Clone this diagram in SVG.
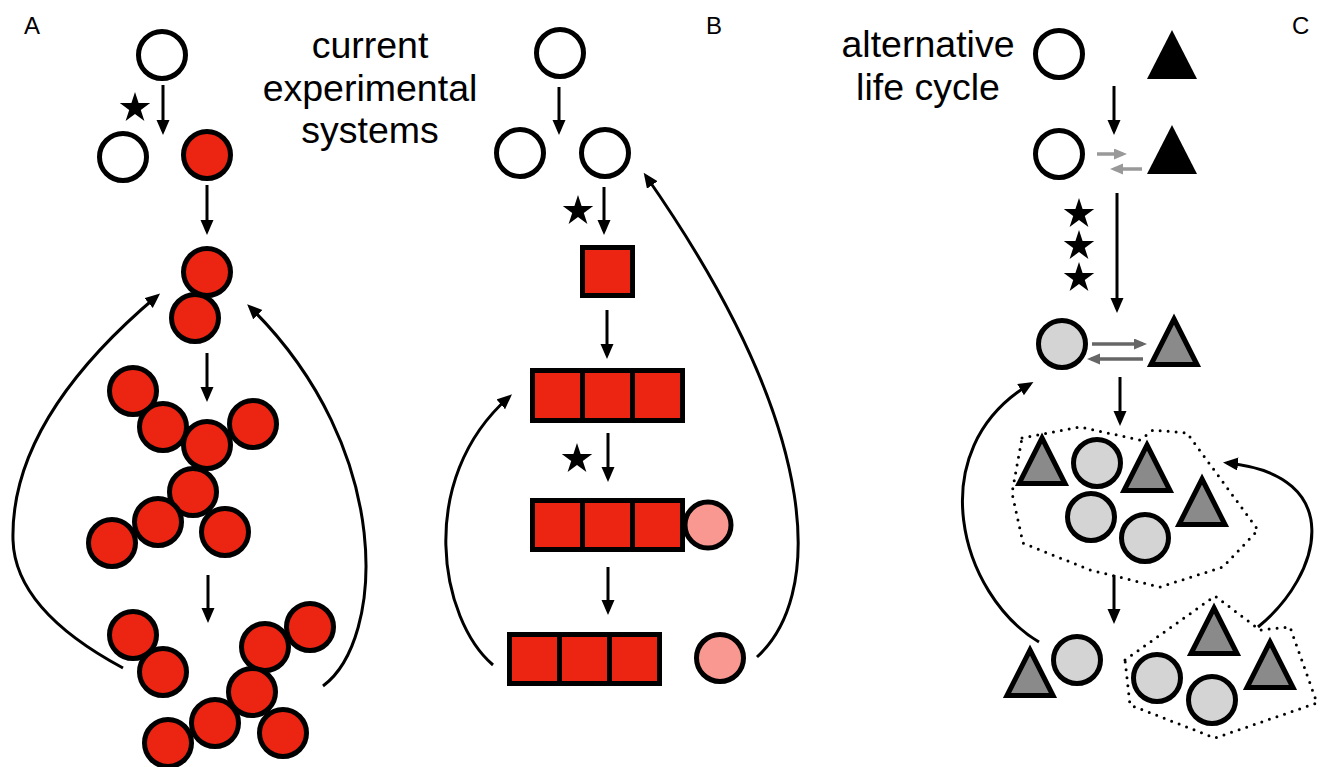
<svg xmlns="http://www.w3.org/2000/svg" xmlns:xlink="http://www.w3.org/1999/xlink" width="1320" height="767" viewBox="0 0 1320 767">
<style>
  .c { stroke: #000; stroke-width: 5; }
  .w { fill: #fff; }
  .r { fill: #ec2412; }
  .p { fill: #f99890; }
  .g { fill: #d4d4d4; }
  .tg { fill: #8a8a8a; stroke: #000; stroke-width: 5; stroke-linejoin: miter; }
  .tb { fill: #000; }
  .box { fill: #ec2412; stroke: #000; stroke-width: 5; }
  .div { stroke: #000; stroke-width: 5; }
  .arr { fill: none; stroke: #000; stroke-width: 3; marker-end: url(#ah); }
  .cur { fill: none; stroke: #000; stroke-width: 3; marker-end: url(#ah); }
  .ga { fill: none; stroke: #999; stroke-width: 3.5; marker-end: url(#ahg); }
  .da { fill: none; stroke: #666; stroke-width: 3.5; marker-end: url(#ahd); }
  .dot { fill: none; stroke: #000; stroke-width: 3; stroke-dasharray: 0 8; stroke-linecap: round; stroke-linejoin: round; }
  .lbl { font-family: "Liberation Sans", Arial, sans-serif; font-size: 24px; fill: #000; }
  .big { font-family: "Liberation Sans", Arial, sans-serif; font-size: 37.5px; fill: #000; text-anchor: middle; }
  .star { fill: #000; }
</style>
<defs>
  <marker id="ah" markerUnits="userSpaceOnUse" markerWidth="16" markerHeight="14" refX="11" refY="6.5" orient="auto">
    <path d="M0,0 L15,6.5 L0,13 z" fill="#000"/>
  </marker>
  <marker id="ahg" markerUnits="userSpaceOnUse" markerWidth="14" markerHeight="12" refX="9" refY="5.5" orient="auto">
    <path d="M0,0 L13,5.5 L0,11 z" fill="#999"/>
  </marker>
  <marker id="ahd" markerUnits="userSpaceOnUse" markerWidth="14" markerHeight="12" refX="9" refY="5.5" orient="auto">
    <path d="M0,0 L13,5.5 L0,11 z" fill="#666"/>
  </marker>
  <path id="star" d="M0,-15 L3.37,-4.64 L14.27,-4.64 L5.45,1.77 L8.82,12.14 L0,5.73 L-8.82,12.14 L-5.45,1.77 L-14.27,-4.64 L-3.37,-4.64 Z"/>
  <path id="starL" d="M0,-16 L3.6,-4.95 L15.22,-4.95 L5.81,1.89 L9.4,12.94 L0,6.11 L-9.4,12.94 L-5.81,1.89 L-15.22,-4.95 L-3.6,-4.95 Z"/>
  <polygon id="tri" points="0,5 23,50.5 -23,50.5"/>
</defs>

<!-- Panel labels and titles -->
<text class="lbl" x="24" y="34">A</text>
<text class="lbl" x="706" y="34">B</text>
<text class="lbl" x="1292" y="34">C</text>
<text class="big" x="370" y="58">current</text>
<text class="big" x="370" y="101">experimental</text>
<text class="big" x="370" y="143">systems</text>
<text class="big" x="928" y="57">alternative</text>
<text class="big" x="928" y="100">life cycle</text>

<!-- Connectors -->
<g id="connectors">
  <!-- A -->
  <path class="arr" d="M163,85 L163,131"/>
  <path class="arr" d="M207,185 L207,231"/>
  <path class="arr" d="M207,353 L207,398"/>
  <path class="arr" d="M208,575 L208,619"/>
  <path class="cur" d="M123,668 Q15,610 13,540 Q10,420 157,296"/>
  <path class="cur" d="M323,686 C385,640 395,450 250,307"/>
  <!-- B -->
  <path class="arr" d="M559,87 L559,131"/>
  <path class="arr" d="M604,187 L604,231"/>
  <path class="arr" d="M607,310 L607,355"/>
  <path class="arr" d="M608,433 L608,478"/>
  <path class="arr" d="M608,567 L608,611"/>
  <path class="cur" d="M493,665 C440,620 415,480 509,397"/>
  <path class="cur" d="M757,657 C820,600 830,440 646,176"/>
  <!-- C -->
  <path class="arr" d="M1114,86 L1114,131"/>
  <path class="ga" d="M1097,154 L1123,154"/>
  <path class="ga" d="M1142,169 L1114,169"/>
  <path class="arr" d="M1117,193 L1117,309"/>
  <path class="da" d="M1092,344 L1143,344"/>
  <path class="da" d="M1143,359 L1091,359"/>
  <path class="arr" d="M1120,377 L1120,422"/>
  <path class="arr" d="M1114,575 L1114,620"/>
  <path class="cur" d="M1039,642 C960,595 920,450 1030,384"/>
  <path class="cur" d="M1258,627 C1322,575 1348,475 1227,463"/>
</g>

<!-- Panel A nodes -->
<g id="A-start"><circle class="c w" cx="162" cy="55" r="23.5"/></g>
<g id="A-star"><use xlink:href="#starL" class="star" x="135" y="108"/></g>
<g id="A-split">
  <circle class="c w" cx="123" cy="157" r="23.5"/>
  <circle class="c r" cx="207" cy="155" r="23.5"/>
</g>
<g id="A-pair">
  <circle class="c r" cx="207" cy="272" r="23.5"/>
  <circle class="c r" cx="195" cy="318" r="23.5"/>
</g>
<g id="A-cluster">
  <circle class="c r" cx="133" cy="391" r="23.5"/>
  <circle class="c r" cx="163" cy="427" r="23.5"/>
  <circle class="c r" cx="253" cy="424" r="23.5"/>
  <circle class="c r" cx="207" cy="445" r="23.5"/>
  <circle class="c r" cx="193" cy="492" r="23.5"/>
  <circle class="c r" cx="112" cy="543" r="23.5"/>
  <circle class="c r" cx="158" cy="522" r="23.5"/>
  <circle class="c r" cx="225" cy="532" r="23.5"/>
</g>
<g id="A-fragment-small">
  <circle class="c r" cx="133" cy="635" r="23.5"/>
  <circle class="c r" cx="163" cy="672" r="23.5"/>
</g>
<g id="A-fragment-large">
  <circle class="c r" cx="310" cy="627" r="23.5"/>
  <circle class="c r" cx="265" cy="647" r="23.5"/>
  <circle class="c r" cx="252" cy="692" r="23.5"/>
  <circle class="c r" cx="168" cy="743" r="23.5"/>
  <circle class="c r" cx="215" cy="723" r="23.5"/>
  <circle class="c r" cx="283" cy="733" r="23.5"/>
</g>

<!-- Panel B nodes -->
<g id="B-start"><circle class="c w" cx="560" cy="53" r="23.5"/></g>
<g id="B-split">
  <circle class="c w" cx="520" cy="153" r="23.5"/>
  <circle class="c w" cx="605" cy="153" r="23.5"/>
</g>
<g id="B-star1"><use xlink:href="#starL" class="star" x="578" y="211"/></g>
<g id="B-square"><rect class="box" x="582.5" y="247.5" width="50" height="48"/></g>
<g id="B-row1">
  <rect class="box" x="532.5" y="370.5" width="150" height="50"/>
  <line class="div" x1="582.5" y1="370.5" x2="582.5" y2="420.5"/>
  <line class="div" x1="632.5" y1="370.5" x2="632.5" y2="420.5"/>
</g>
<g id="B-star2"><use xlink:href="#starL" class="star" x="577" y="459"/></g>
<g id="B-row2">
  <rect class="box" x="532.5" y="500.5" width="150" height="49"/>
  <line class="div" x1="582.5" y1="500.5" x2="582.5" y2="549.5"/>
  <line class="div" x1="632.5" y1="500.5" x2="632.5" y2="549.5"/>
  <circle class="c p" cx="708" cy="525" r="23"/>
</g>
<g id="B-row3">
  <rect class="box" x="509.5" y="634.5" width="150" height="49"/>
  <line class="div" x1="559.5" y1="634.5" x2="559.5" y2="683.5"/>
  <line class="div" x1="609.5" y1="634.5" x2="609.5" y2="683.5"/>
  <circle class="c p" cx="720" cy="658" r="23.5"/>
</g>

<!-- Panel C nodes -->
<g id="C-start">
  <circle class="c w" cx="1059" cy="54" r="23.5"/>
  <polygon class="tb" points="1147,79 1197,79 1172,30"/>
</g>
<g id="C-exchange">
  <circle class="c w" cx="1059" cy="154" r="23.5"/>
  <polygon class="tb" points="1147,174 1197,174 1172,125"/>
</g>
<g id="C-stars">
  <use xlink:href="#starL" class="star" x="1079" y="214"/>
  <use xlink:href="#starL" class="star" x="1079" y="246"/>
  <use xlink:href="#starL" class="star" x="1079" y="278"/>
</g>
<g id="C-pair">
  <circle class="c g" cx="1062" cy="344" r="23.5"/>
  <use xlink:href="#tri" class="tg" x="1174" y="314"/>
</g>
<g id="C-group">
  <polygon class="dot" points="1022,438 1080,427 1140,440 1153,430 1187,433 1258,530 1223,567 1160,587 1090,570 1023,543 1012,493"/>
  <use xlink:href="#tri" class="tg" x="1042" y="433"/>
  <circle class="c g" cx="1097" cy="463" r="23.5"/>
  <use xlink:href="#tri" class="tg" x="1147" y="440"/>
  <circle class="c g" cx="1091" cy="517" r="23.5"/>
  <circle class="c g" cx="1145" cy="538" r="23.5"/>
  <use xlink:href="#tri" class="tg" x="1202" y="474"/>
</g>
<g id="C-released">
  <use xlink:href="#tri" class="tg" x="1030" y="645"/>
  <circle class="c g" cx="1077" cy="660" r="23.5"/>
</g>
<g id="C-offspring-group">
  <polygon class="dot" points="1125,660 1215,596 1260,630 1290,627 1317,703 1215,738 1130,705"/>
  <use xlink:href="#tri" class="tg" x="1214" y="603"/>
  <use xlink:href="#tri" class="tg" x="1270" y="637"/>
  <circle class="c g" cx="1157" cy="678" r="23.5"/>
  <circle class="c g" cx="1212" cy="700" r="23.5"/>
</g>
</svg>
